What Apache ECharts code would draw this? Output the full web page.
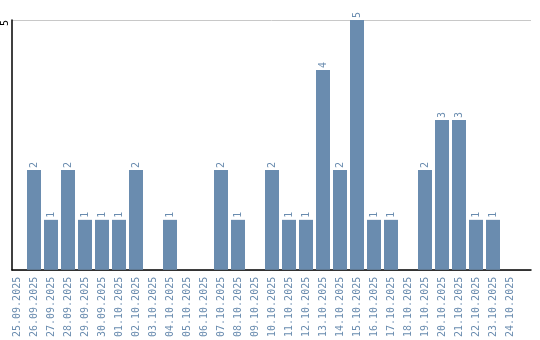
<!DOCTYPE html>
<html>
<head>
<meta charset="utf-8">
<script src="https://cdn.jsdelivr.net/npm/echarts@6/dist/echarts.min.js"></script>
<style>html,body{margin:0;padding:0;background:#fff}#c{width:540px;height:340px}</style>
</head>
<body>
<div id="c"></div>
<script>
const categories = ['25.09.2025','26.09.2025','27.09.2025','28.09.2025','29.09.2025','30.09.2025','01.10.2025','02.10.2025','03.10.2025','04.10.2025','05.10.2025','06.10.2025','07.10.2025','08.10.2025','09.10.2025','10.10.2025','11.10.2025','12.10.2025','13.10.2025','14.10.2025','15.10.2025','16.10.2025','17.10.2025','18.10.2025','19.10.2025','20.10.2025','21.10.2025','22.10.2025','23.10.2025','24.10.2025'];
const values = [0,2,1,2,1,1,1,2,0,1,0,0,2,1,0,2,1,1,4,2,5,1,1,0,2,3,3,1,1,0];
const yTicks = [5];

const blue = '#6a8caf';
const font = 'DejaVu Sans Mono';
const chart = echarts.init(document.getElementById('c'), null, {renderer:'canvas'});
chart.setOption({
  animation: false,
  backgroundColor: '#fff',
  grid: [
    {left: 10, right: 9, top: 20, bottom: 70},
    {left: 8.5, width: 510, top: 20, bottom: 70}
  ],
  xAxis: [
    {gridIndex: 0, type: 'value', min: 0, max: 1,
     axisLine: {show: true, lineStyle: {color: '#000', width: 1.5}},
     axisTick: {show: false}, axisLabel: {show: false}, splitLine: {show: false}},
    {gridIndex: 1, type: 'category', data: categories,
     axisLine: {show: false}, axisTick: {show: false},
     axisLabel: {interval: 0, rotate: 90, color: blue, fontFamily: font, fontSize: 10, margin: 7}}
  ],
  yAxis: [
    {gridIndex: 0, type: 'value', min: 0, max: 5, interval: 5,
     axisLine: {show: true, lineStyle: {color: '#000', width: 1.5}},
     axisTick: {show: false},
     axisLabel: {rotate: 90, align: 'center', verticalAlign: 'bottom', padding: [0, 6, 0, 0],
       color: '#000', fontFamily: font, fontSize: 10, margin: 2,
       formatter: v => yTicks.includes(v) ? String(v) : ''},
     splitLine: {show: true, lineStyle: {color: '#c8c8c8', width: 1}}},
    {gridIndex: 1, type: 'value', min: 0, max: 5, show: false}
  ],
  series: [{
    type: 'bar', xAxisIndex: 1, yAxisIndex: 1,
    data: values, barWidth: 14,
    itemStyle: {color: blue},
    label: {show: true, position: 'top', rotate: 90, align: 'left', verticalAlign: 'middle',
      distance: 2, color: blue, fontFamily: font, fontSize: 10,
      formatter: p => p.value > 0 ? String(p.value) : ''}
  }]
});
</script>
</body>
</html>
